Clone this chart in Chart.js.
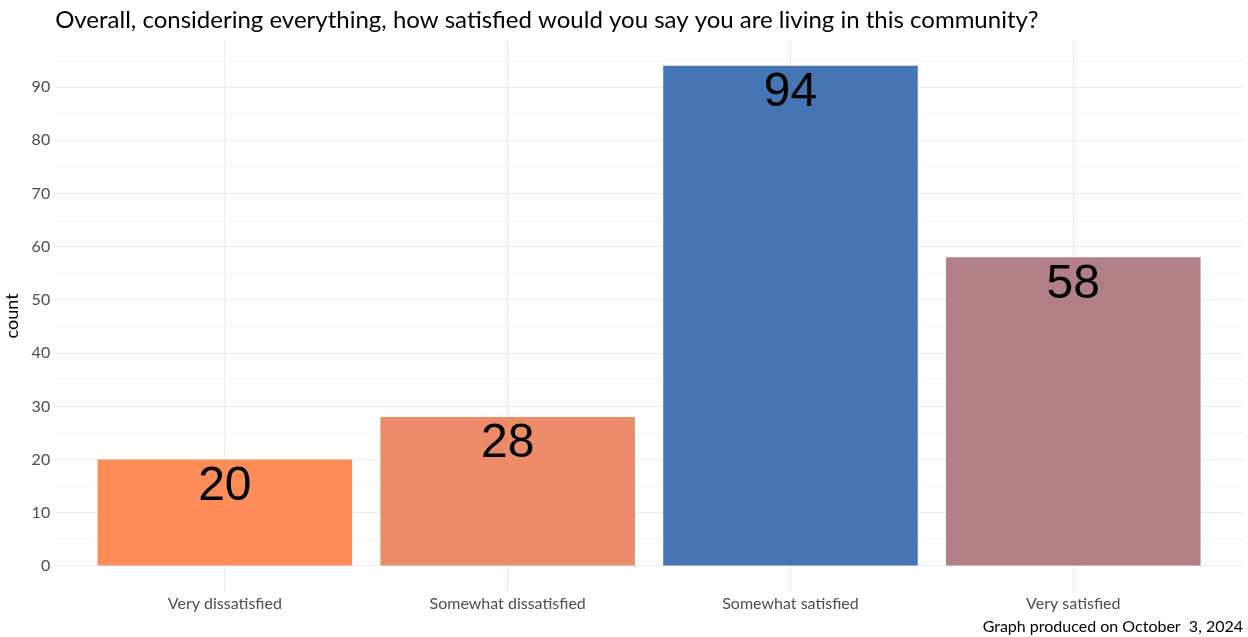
<!DOCTYPE html>
<html lang="en">
<head>
<meta charset="UTF-8">
<title>Community satisfaction</title>
<script src="https://cdn.jsdelivr.net/npm/chart.js"></script>
<style>
  html, body { margin: 0; padding: 0; background: #fff; }
  #wrap { width: 1248px; height: 637px; position: relative; }
</style>
</head>
<body>
<div id="wrap"><canvas id="satChart"></canvas></div>
<script>
// data
const categories = ['Very dissatisfied', 'Somewhat dissatisfied', 'Somewhat satisfied', 'Very satisfied'];
const counts = [20, 28, 94, 58];
const barColors = ['#FC8D59', '#EC8B68', '#4575B4', '#B27F87'];
const yTicks = [0, 5, 10, 15, 20, 25, 30, 35, 40, 45, 50, 55, 60, 65, 70, 75, 80, 85, 90, 95];

const uiFont = 'Lato, "Open Sans", sans-serif';

// big numbers drawn inside the top of each bar
const barLabels = {
    id: 'barLabels',
    afterDatasetsDraw(chart) {
        const ctx = chart.ctx;
        const meta = chart.getDatasetMeta(0);
        ctx.save();
        ctx.font = '48px "Liberation Sans", Arial, sans-serif';
        ctx.fillStyle = '#000';
        ctx.textAlign = 'center';
        ctx.textBaseline = 'middle';
        meta.data.forEach((bar, i) => {
            ctx.fillText(String(counts[i]), bar.x, bar.y + 27);
        });
        ctx.restore();
    }
};

const ctx = document.getElementById('satChart').getContext('2d');
new Chart(ctx, {
    type: 'bar',
    data: {
        datasets: [{
            data: counts.map((v, i) => ({ x: i, y: v })),
            backgroundColor: barColors,
            borderWidth: 0,
            barPercentage: 0.9,
            categoryPercentage: 1.0
        }]
    },
    options: {
        responsive: true,
        maintainAspectRatio: false,
        animation: false,
        layout: { padding: { left: 1, right: 5, top: 4, bottom: 0 } },
        plugins: {
            legend: { display: false },
            tooltip: { enabled: false },
            title: {
                display: true,
                text: 'Overall, considering everything, how satisfied would you say you are living in this community?',
                align: 'start',
                fullSize: false,
                color: '#000',
                font: { family: uiFont, size: 24, weight: 'normal' },
                padding: { top: 2, bottom: 6 }
            },
            subtitle: {
                display: true,
                position: 'bottom',
                text: 'Graph produced on October  3, 2024',
                align: 'end',
                fullSize: false,
                color: '#000',
                font: { family: uiFont, size: 16, lineHeight: 1.0 },
                padding: { top: 2, bottom: 2 }
            }
        },
        scales: {
            x: {
                type: 'linear',
                offset: false,
                min: -0.6,
                max: 3.6,
                afterBuildTicks: axis => { axis.ticks = categories.map((c, i) => ({ value: i })); },
                grid: { color: '#EBEBEB', drawTicks: false, offset: false },
                border: { display: false },
                ticks: {
                    callback: v => categories[v],
                    color: '#4D4D4D',
                    font: { family: uiFont, size: 16, lineHeight: 1.0 },
                    padding: 5,
                    maxRotation: 0
                }
            },
            y: {
                min: -4.7,
                max: 98.7,
                afterBuildTicks: axis => { axis.ticks = yTicks.map(v => ({ value: v })); },
                grid: {
                    color: c => (c.tick && c.tick.value % 10 === 0) ? '#EBEBEB' : '#F4F4F4',
                    drawTicks: false
                },
                border: { display: false },
                title: {
                    display: true,
                    text: 'count',
                    color: '#000',
                    font: { family: uiFont, size: 18 },
                    padding: { top: 0, bottom: 4 }
                },
                ticks: {
                    callback: v => (v % 10 === 0 ? String(v) : ''),
                    color: '#4D4D4D',
                    font: { family: uiFont, size: 16 },
                    padding: 5
                }
            }
        }
    },
    plugins: [barLabels]
});
</script>
</body>
</html>
